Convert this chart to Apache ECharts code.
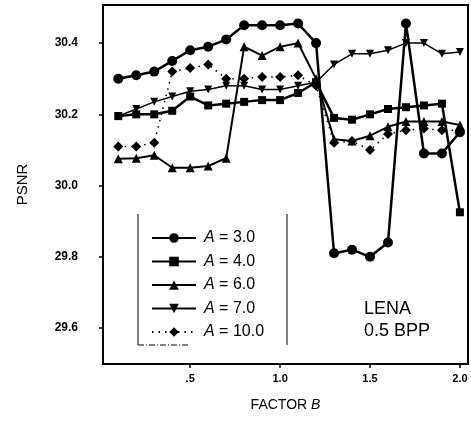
<!DOCTYPE html>
<html>
<head>
<meta charset="utf-8">
<title>PSNR vs factor B</title>
<script src="https://cdn.jsdelivr.net/npm/echarts@6.0.0/dist/echarts.min.js"></script>
<style>
  html, body { margin: 0; padding: 0; background: #fff; }
  #chart { width: 471px; height: 427px; }
</style>
</head>
<body>
<div id="chart"></div>
<script type="text/javascript">
// factor B on the x axis, PSNR for each value of A
var factorB = [0.1, 0.2, 0.3, 0.4, 0.5, 0.6, 0.7, 0.8, 0.9, 1.0,
               1.1, 1.2, 1.3, 1.4, 1.5, 1.6, 1.7, 1.8, 1.9, 2.0];
var psnrA3  = [30.30, 30.31, 30.32, 30.35, 30.38, 30.39, 30.41, 30.45, 30.45, 30.45,
               30.455, 30.40, 29.81, 29.82, 29.80, 29.84, 30.455, 30.09, 30.09, 30.15];
var psnrA4  = [30.195, 30.20, 30.20, 30.21, 30.25, 30.225, 30.23, 30.235, 30.24, 30.24,
               30.26, 30.29, 30.19, 30.185, 30.20, 30.215, 30.22, 30.225, 30.23, 29.925];
var psnrA6  = [30.075, 30.077, 30.085, 30.05, 30.05, 30.055, 30.077, 30.39, 30.365, 30.39,
               30.40, 30.30, 30.13, 30.125, 30.14, 30.165, 30.18, 30.18, 30.18, 30.17];
var psnrA7  = [30.195, 30.215, 30.235, 30.25, 30.265, 30.27, 30.28, 30.28, 30.27, 30.27,
               30.28, 30.29, 30.34, 30.37, 30.37, 30.38, 30.40, 30.40, 30.37, 30.375];
var psnrA10 = [30.11, 30.11, 30.12, 30.32, 30.33, 30.34, 30.30, 30.30, 30.305, 30.305,
               30.31, 30.28, 30.12, 30.125, 30.10, 30.145, 30.155, 30.16, 30.155, 30.155];
var seriesNames = ['A = 3.0', 'A = 4.0', 'A = 6.0', 'A = 7.0', 'A = 10.0'];
var xTicks = [0.5, 1.0, 1.5, 2.0];
var xTickLabels = ['.5', '1.0', '1.5', '2.0'];
var yTicks = [29.6, 29.8, 30.0, 30.2, 30.4];
var yTickLabels = ['29.6', '29.8', '30.0', '30.2', '30.4'];

function pairs(ys) {
    return factorB.map(function (x, i) { return [x, ys[i]]; });
}

var font = 'Liberation Sans, Arial, sans-serif';
var myChart = echarts.init(document.getElementById('chart'), null, {renderer: 'canvas'});

option = {
    animation: false,
    backgroundColor: '#fff',
    grid: {
        left: 103, right: 3, top: 5, bottom: 63,
        show: true, borderColor: '#000', borderWidth: 2
    },
    xAxis: {
        type: 'value',
        min: 0.015,
        max: 2.045,
        name: 'FACTOR {b|B}',
        nameLocation: 'middle',
        nameGap: 34,
        nameTextStyle: {
            fontFamily: font, fontSize: 14, color: '#000',
            rich: { b: { fontFamily: font, fontSize: 14, fontStyle: 'italic', color: '#000' } }
        },
        axisLine: { lineStyle: { color: '#000', width: 2 } },
        axisTick: { customValues: xTicks, length: 4, lineStyle: { color: '#000', width: 1.5 } },
        axisLabel: {
            customValues: xTicks,
            margin: 9,
            fontFamily: font, fontSize: 11, fontWeight: 'bold', color: '#000',
            formatter: function (v) { return xTickLabels[xTicks.indexOf(v)]; }
        },
        splitLine: { show: false }
    },
    yAxis: {
        type: 'value',
        min: 29.499,
        max: 30.507,
        name: 'PSNR',
        nameLocation: 'middle',
        nameRotate: 90,
        nameGap: 73,
        nameTextStyle: { fontFamily: font, fontSize: 15, color: '#000' },
        axisLine: { lineStyle: { color: '#000', width: 2 } },
        axisTick: { customValues: yTicks, length: 4, lineStyle: { color: '#000', width: 1.5 } },
        axisLabel: {
            customValues: yTicks,
            margin: 25,
            fontFamily: font, fontSize: 12, fontWeight: 'bold', color: '#000',
            formatter: function (v) {
                var k = yTicks.findIndex(function (t) { return Math.abs(t - v) < 1e-6; });
                return k < 0 ? '' : yTickLabels[k];
            }
        },
        splitLine: { show: false }
    },
    legend: {
        orient: 'vertical',
        left: 146,
        top: 225,
        itemWidth: 44,
        itemHeight: 12,
        itemGap: 7.5,
        data: seriesNames,
        formatter: function (name) { return '{i|A}' + name.substring(1); },
        textStyle: {
            fontFamily: font, fontSize: 16, color: '#000', lineHeight: 16,
            rich: { i: { fontFamily: font, fontSize: 16, fontStyle: 'italic', color: '#000', padding: [0, 0, 0, 3] } }
        }
    },
    graphic: [
        { type: 'line', shape: { x1: 138, y1: 214, x2: 138, y2: 345 }, style: { stroke: '#000', lineWidth: 1 } },
        { type: 'line', shape: { x1: 287, y1: 214, x2: 287, y2: 345 }, style: { stroke: '#000', lineWidth: 1 } },
        { type: 'line', shape: { x1: 138, y1: 345, x2: 190, y2: 345 }, style: { stroke: '#000', lineWidth: 1, lineDash: [6, 2, 1, 2] } },
        {
            type: 'text', left: 364, top: 298,
            style: { text: 'LENA\n0.5 BPP', font: '18px ' + font, fill: '#000', lineHeight: 22 }
        }
    ],
    series: [
        {
            name: seriesNames[0], type: 'line', data: pairs(psnrA3),
            symbol: 'circle', symbolSize: 10,
            lineStyle: { color: '#000', width: 2.5 }, itemStyle: { color: '#000' }
        },
        {
            name: seriesNames[1], type: 'line', data: pairs(psnrA4),
            symbol: 'rect', symbolSize: 8,
            lineStyle: { color: '#000', width: 2.5 }, itemStyle: { color: '#000' }
        },
        {
            name: seriesNames[2], type: 'line', data: pairs(psnrA6),
            symbol: 'triangle', symbolSize: 9,
            lineStyle: { color: '#000', width: 2 }, itemStyle: { color: '#000' }
        },
        {
            name: seriesNames[3], type: 'line', data: pairs(psnrA7),
            symbol: 'triangle', symbolRotate: 180, symbolSize: 8,
            lineStyle: { color: '#000', width: 1.5 }, itemStyle: { color: '#000' }
        },
        {
            name: seriesNames[4], type: 'line', data: pairs(psnrA10),
            symbol: 'diamond', symbolSize: 10,
            lineStyle: { color: '#000', width: 1.5, type: [1.5, 5] }, itemStyle: { color: '#000' }
        }
    ]
};

myChart.setOption(option);
</script>
</body>
</html>
